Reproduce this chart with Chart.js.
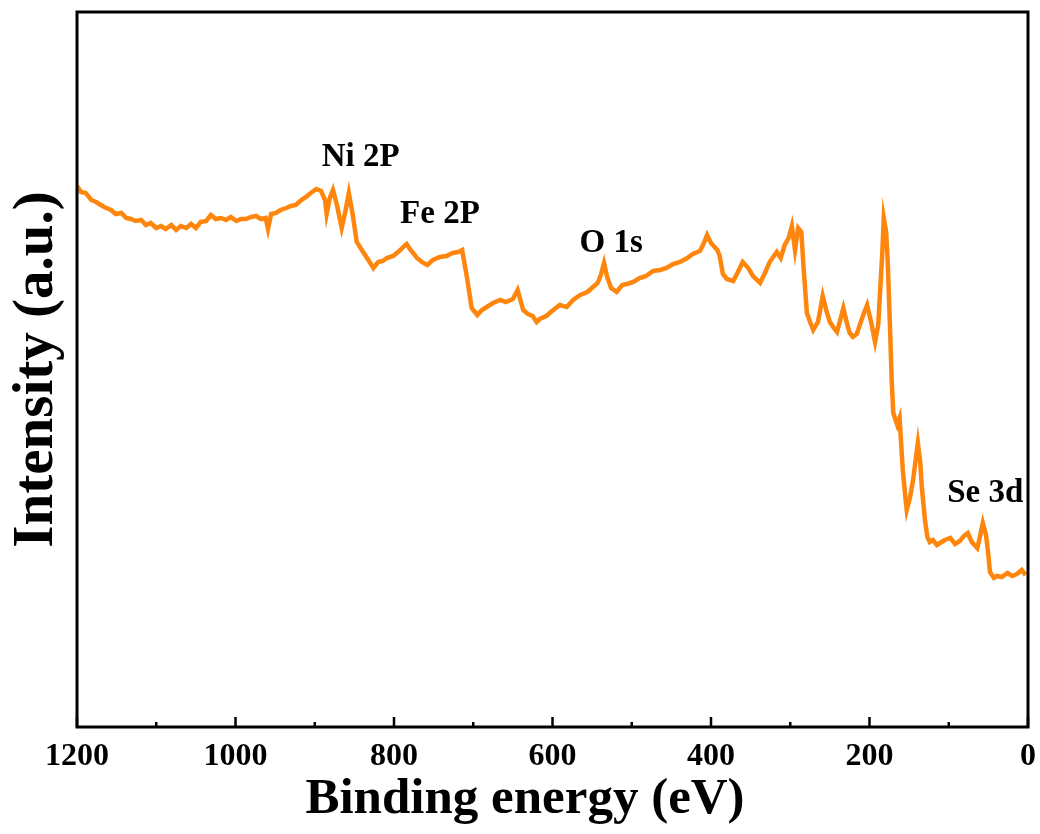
<!DOCTYPE html>
<html>
<head>
<meta charset="utf-8">
<script src="https://cdn.jsdelivr.net/npm/chart.js@4/dist/chart.umd.min.js"></script>
<style>
  body { margin: 0; background: #fff; }
  canvas { display: block; }
</style>
</head>
<body>
<canvas id="xpsChart" width="1040" height="834"></canvas>
<script>
// XPS survey spectrum, binding energy (eV) vs intensity (a.u.)
var energies = [
    1200, 1195, 1189, 1182, 1176, 1170, 1163, 1157, 1151, 1144,
    1138, 1132, 1126, 1119, 1113, 1107, 1100, 1094, 1088, 1081,
    1075, 1069, 1062, 1056, 1050, 1044, 1037, 1031, 1025, 1018,
    1012, 1006, 999, 993, 987, 980, 974, 968, 962, 959,
    955, 949, 943, 936, 930, 924, 917, 911, 905, 898,
    892, 887, 885, 881, 877, 872, 866, 861, 857, 852,
    847, 839, 834, 826, 820, 814, 809, 801, 792, 787,
    784, 779, 771, 765, 758, 751, 742, 734, 726, 719,
    714, 708, 702, 695, 689, 683, 675, 666, 659, 650,
    644, 637, 631, 625, 620, 616, 608, 599, 591, 582,
    574, 565, 556, 549, 543, 539, 535, 531, 526, 519,
    512, 506, 498, 490, 482, 473, 464, 456, 448, 439,
    430, 423, 414, 409, 405, 400, 392, 389, 385, 380,
    372, 366, 360, 353, 347, 338, 332, 326, 317, 312,
    307, 302, 298, 294, 290, 286, 283, 279, 275, 271,
    265, 259, 254, 250, 245, 241, 237, 233, 228, 225,
    221, 216, 211, 207, 203, 198, 193, 189, 187, 184,
    182, 179, 177, 174, 172, 170, 165, 162, 158, 155,
    153, 149, 145, 141, 139, 136, 134, 130, 127, 124,
    120, 115, 111, 105, 98, 92, 86, 81, 76, 71,
    64, 61, 57, 53, 50, 48, 43, 39, 33, 26,
    20, 14, 8, 3
];

var intensities = [
    541, 535, 534, 527, 525, 522, 519, 517, 513, 514,
    509, 508, 506, 507, 502, 504, 499, 501, 498, 502,
    497, 501, 499, 503, 499, 505, 506, 512, 508, 509,
    507, 510, 506, 508, 508, 510, 511, 508, 509, 498,
    513, 514, 517, 519, 521, 522, 527, 530, 534, 538,
    536, 527, 513, 529, 537, 522, 499, 517, 534, 512,
    485, 475, 469, 459, 465, 466, 469, 471, 477, 481,
    483, 477, 469, 465, 462, 467, 470, 471, 474, 475,
    477, 450, 419, 412, 417, 420, 424, 427, 425, 428,
    437, 417, 413, 411, 405, 408, 411, 417, 422, 420,
    427, 432, 435, 440, 444, 452, 464, 450, 439, 435,
    442, 443, 445, 449, 451, 456, 457, 459, 463, 465,
    469, 473, 476, 484, 492, 484, 477, 471, 453, 448,
    446, 455, 465, 459, 451, 444, 454, 465, 475, 469,
    482, 489, 501, 477, 499, 495, 457, 414, 405, 397,
    405, 431, 415, 405, 399, 395, 407, 419, 402, 394,
    390, 393, 405, 414, 422, 405, 385, 402, 430, 472,
    509, 495, 465, 397, 347, 314, 302, 309, 257, 232,
    217, 229, 247, 272, 284, 265, 240, 207, 190, 185,
    187, 182, 184, 187, 189, 183, 186, 191, 194, 185,
    179, 189, 204, 192, 172, 155, 149, 151, 150, 154,
    151, 153, 157, 152
];

var peakNames = ["Ni 2P", "Fe 2P", "O 1s", "Se 3d"];
var peakEnergies = [842, 742, 526, 54];
var peakLabelHeights = [570, 513, 484, 234];

var majorTicks = [0, 200, 400, 600, 800, 1000, 1200];
var minorTicks = [100, 300, 500, 700, 900, 1100];

var xTitle = "Binding energy (eV)";
var yTitle = "Intensity (a.u.)";

var serif = '"Liberation Serif", "Times New Roman", serif';

var points = energies.map(function (e, i) {
    return { x: e, y: intensities[i] };
});

// frame, inward ticks, x title and peak labels
var decor = {
    id: "decor",
    afterDraw: function (chart) {
        var ctx = chart.ctx;
        var a = chart.chartArea;
        var x = chart.scales.x;
        var y = chart.scales.y;
        ctx.save();
        ctx.strokeStyle = "#000";
        ctx.lineWidth = 3;
        ctx.strokeRect(a.left, a.top, a.right - a.left, a.bottom - a.top);

        ctx.lineWidth = 2.5;
        majorTicks.forEach(function (v) {
            var px = x.getPixelForValue(v);
            ctx.beginPath();
            ctx.moveTo(px, a.bottom);
            ctx.lineTo(px, a.bottom - 10);
            ctx.stroke();
        });
        minorTicks.forEach(function (v) {
            var px = x.getPixelForValue(v);
            ctx.beginPath();
            ctx.moveTo(px, a.bottom);
            ctx.lineTo(px, a.bottom - 5);
            ctx.stroke();
        });

        ctx.fillStyle = "#000";
        ctx.textAlign = "center";
        ctx.textBaseline = "middle";
        ctx.font = "bold 51px " + serif;
        ctx.fillText(xTitle, 525, 800);

        ctx.font = "bold 33px " + serif;
        peakNames.forEach(function (name, i) {
            ctx.fillText(
                name,
                x.getPixelForValue(peakEnergies[i]),
                y.getPixelForValue(peakLabelHeights[i])
            );
        });
        ctx.restore();
    },
};

var ctx = document.getElementById("xpsChart").getContext("2d");
var myChart = new Chart(ctx, {
    type: "line",
    data: {
        datasets: [
            {
                label: "XPS survey",
                data: points,
                borderColor: "#FF860D",
                borderWidth: 4.5,
                pointRadius: 0,
                tension: 0,
                fill: false,
            },
        ],
    },
    options: {
        responsive: false,
        animation: false,
        layout: {
            padding: { top: 12, right: 12, left: 0, bottom: 0 },
        },
        plugins: {
            legend: { display: false },
            tooltip: { enabled: false },
        },
        scales: {
            x: {
                type: "linear",
                reverse: true,
                min: 0,
                max: 1200,
                grid: { display: false, drawTicks: false },
                border: { display: false },
                ticks: {
                    stepSize: 200,
                    padding: 11,
                    color: "#000",
                    font: { family: serif, size: 32, weight: "bold" },
                    callback: function (value) {
                        return String(value);
                    },
                },
                afterFit: function (scale) {
                    scale.height = 107;
                    scale.paddingLeft = 0;
                    scale.paddingRight = 0;
                },
            },
            y: {
                min: 0,
                max: 715,
                grid: { display: false },
                border: { display: false },
                ticks: { display: false },
                title: {
                    display: true,
                    text: yTitle,
                    color: "#000",
                    padding: { top: 3, bottom: 0 },
                    font: { family: serif, size: 57, weight: "bold" },
                },
                afterFit: function (scale) {
                    scale.width = 77;
                },
            },
        },
    },
    plugins: [decor],
});
</script>
</body>
</html>
